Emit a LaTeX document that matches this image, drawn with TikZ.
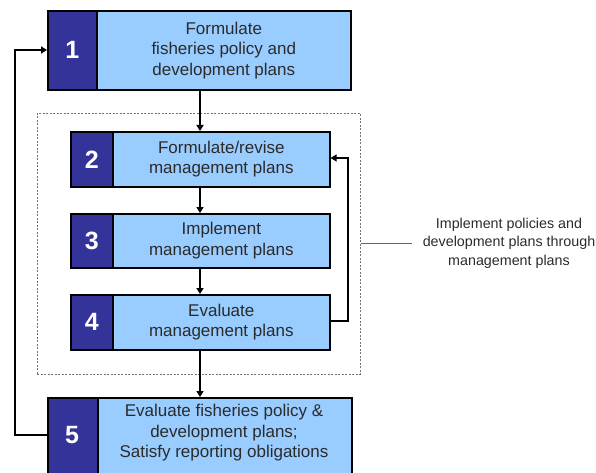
\documentclass[tikz,border=0pt]{standalone}
\usepackage{fontspec}
\setmainfont{Liberation Sans}
\usetikzlibrary{arrows.meta}
\definecolor{navy}{HTML}{333399}
\definecolor{lightblue}{HTML}{99CCFF}
\definecolor{txt}{HTML}{2B2B2B}
\begin{document}
\begin{tikzpicture}[x=1pt,y=-1pt,
  numbox/.style={draw=black, line width=1.6pt, fill=navy, anchor=north west, inner sep=0pt,
     text=white, font=\bfseries\fontsize{25}{25}\selectfont},
  txtbox/.style={draw=black, line width=1.6pt, fill=lightblue, anchor=north west, inner sep=0pt,
     text=txt, align=center, font=\fontsize{17}{20.5}\selectfont},
  plaintxt/.style={text=txt, align=center, font=\fontsize{17}{20.5}\selectfont, inner sep=0pt},
  conn/.style={line width=1.6pt, -{Triangle[length=6pt,width=7pt]}},
]
\useasboundingbox (0,0) rectangle (596,473);
% dashed group
\node[draw=black!55, dashed, line width=0.8pt, dash pattern=on 2pt off 1.5pt, anchor=north west,
  minimum width=323pt, minimum height=261pt, inner sep=0pt] (grp) at (37,113) {};
% box 1
\node[txtbox, minimum width=254pt, minimum height=79pt] (b1) at (96,10)
  {Formulate\\fisheries policy and\\development plans};
\node[numbox, minimum width=49pt, minimum height=79pt] (n1) at (47,10) {1};
% box 2
\node[txtbox, minimum width=217pt, minimum height=55pt] (b2) at (112,131)
  {Formulate/revise\\management plans};
\node[numbox, minimum width=42pt, minimum height=55pt] (n2) at (70,131) {2};
% box 3
\node[txtbox, minimum width=217pt, minimum height=54pt] (b3) at (112,213)
  {Implement\\management plans};
\node[numbox, minimum width=42pt, minimum height=54pt] (n3) at (70,213) {3};
% box 4
\node[txtbox, minimum width=217pt, minimum height=55pt] (b4) at (112,294)
  {Evaluate\\management plans};
\node[numbox, minimum width=42pt, minimum height=55pt] (n4) at (70,294) {4};
% box 5 (runs past the lower edge)
\node[txtbox, minimum width=254pt, minimum height=90pt] (b5) at (97,397) {};
\node[numbox, minimum width=50pt, minimum height=90pt] (n5) at (47,397) {};
\node[text=white, font=\bfseries\fontsize{25}{25}\selectfont] (d5) at (72,435) {5};
\node[plaintxt] (t5) at (224,433)
  {Evaluate fisheries policy \&\\development plans;\\Satisfy reporting obligations};
% label
\node[align=center, text=txt, font=\fontsize{14.3}{18.5}\selectfont, inner sep=0pt] (lbl) at (509,243)
  {Implement policies and\\development plans through\\management plans};
\coordinate (lblend) at (412,243);
\draw[black!60, line width=0.8pt] (grp.east |- lblend) -- (lblend);
% connectors
\draw[conn] (b1.south -| 200,0) -- (b2.north -| 200,0);
\draw[conn] (b2.south -| 200,0) -- (b3.north -| 200,0);
\draw[conn] (b3.south -| 200,0) -- (b4.north -| 200,0);
\draw[conn] (b4.south -| 200,0) -- (b5.north -| 200,0);
\draw[conn] (b4.east |- 0,321) -| (348,240) |- (b2.east |- 0,158);
\draw[conn] (n5.west |- 0,435) -| (15,240) |- (n1.west |- 0,50);
\end{tikzpicture}
\end{document}
